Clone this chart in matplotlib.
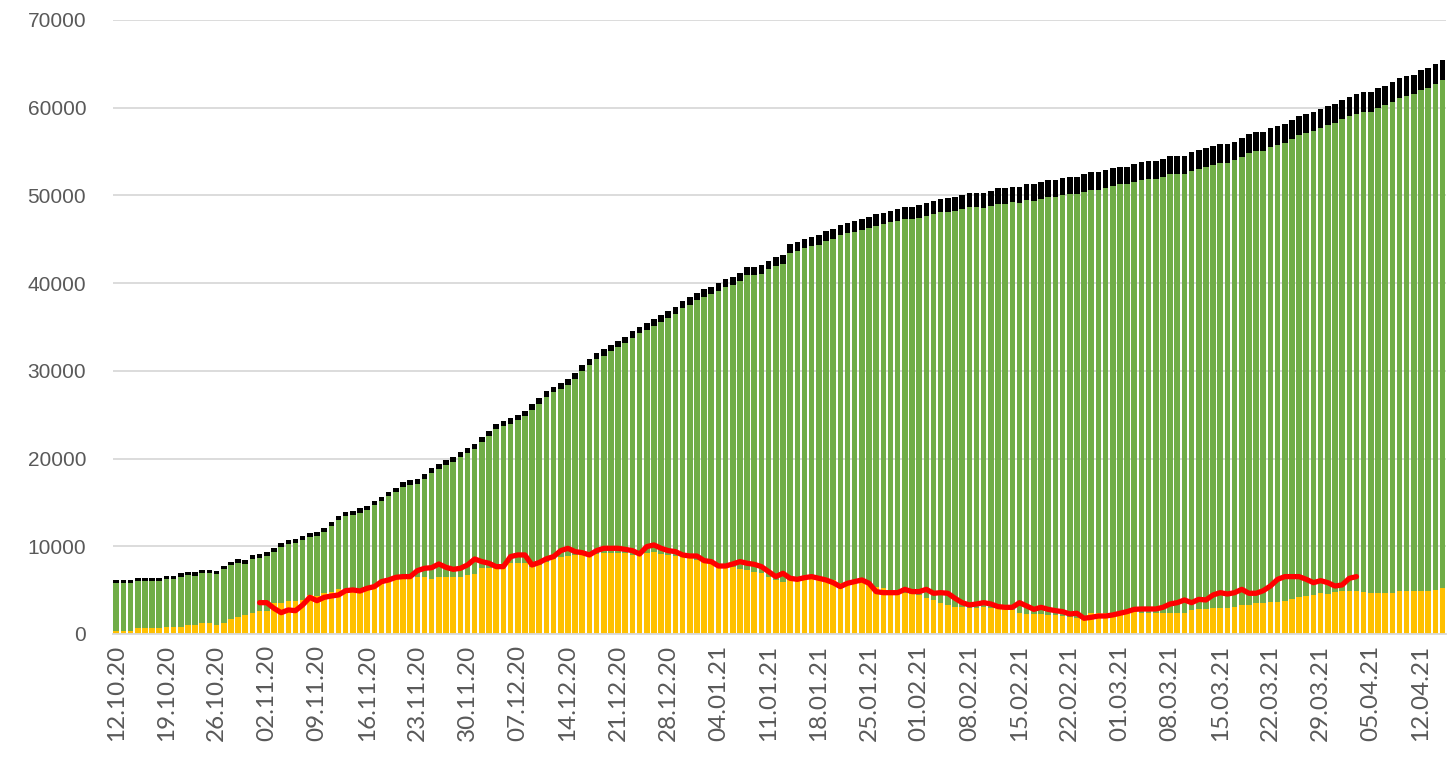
import matplotlib
matplotlib.use("Agg")
import matplotlib.pyplot as plt
import numpy as np
import pandas as pd

# ---- data ----
dates = pd.date_range("2020-10-12", periods=186, freq="D")
date_labels = [d.strftime("%d.%m.%y") for d in dates]

total_cases = [
    6160, 6160, 6160, 6420, 6350, 6350, 6350, 6610, 6610, 6920,
    7110, 7030, 7300, 7300, 7220, 7790, 8250, 8510, 8440, 8970,
    9120, 9380, 9840, 10340, 10720, 10800, 11210, 11480, 11590, 12120,
    12810, 13450, 13950, 14020, 14330, 14600, 15200, 15660, 16230, 16690,
    17300, 17560, 17640, 18210, 18890, 19380, 19840, 20150, 20790, 21170,
    21660, 22500, 23180, 23910, 24290, 24590, 24970, 25460, 26190, 26870,
    27700, 28200, 28580, 29040, 29720, 30670, 31320, 32000, 32450, 32950,
    33440, 33900, 34550, 35040, 35420, 35920, 36370, 36870, 37320, 37970,
    38390, 38920, 39340, 39600, 39990, 40480, 40740, 41200, 41880, 41880,
    42080, 42570, 42950, 43220, 44470, 44730, 45040, 45300, 45500, 45950,
    46180, 46640, 46900, 47090, 47280, 47580, 47850, 48040, 48270, 48460,
    48720, 48720, 48920, 49110, 49370, 49600, 49680, 49860, 50060, 50320,
    50320, 50320, 50550, 50820, 50820, 51010, 51010, 51270, 51270, 51500,
    51770, 51770, 51960, 52150, 52150, 52420, 52650, 52650, 52910, 53100,
    53280, 53280, 53560, 53790, 53970, 53970, 54200, 54470, 54470, 54470,
    54920, 55150, 55380, 55610, 55840, 55840, 56100, 56520, 57000, 57200,
    57200, 57660, 57870, 58120, 58580, 59000, 59290, 59560, 59900, 60170,
    60400, 60850, 61270, 61530, 61760, 61760, 62220, 62520, 62900, 63360,
    63590, 63780, 64270, 64500, 64990, 65450,
]

active = [
    380, 380, 380, 650, 650, 650, 700, 830, 830, 800,
    1030, 1030, 1290, 1290, 1030, 1290, 1710, 1980, 2170, 2430,
    2660, 2660, 3570, 3570, 3800, 3800, 3880, 4450, 4330, 4640,
    4790, 5090, 5020, 4830, 5020, 5210, 5210, 5700, 5970, 6350,
    6540, 6540, 6540, 6540, 6240, 6540, 6540, 6540, 6540, 6730,
    6800, 7490, 7490, 7490, 7680, 8130, 8130, 8130, 7680, 7900,
    8200, 8510, 8820, 8890, 9010, 9120, 8890, 9120, 9270, 9270,
    9270, 9200, 9010, 9010, 9270, 9390, 9120, 9010, 8890, 8740,
    8740, 8440, 8250, 8060, 7750, 7750, 7680, 7370, 7300, 7110,
    6920, 6540, 6160, 5970, 6160, 6230, 6350, 6230, 6160, 6080,
    6160, 5780, 5780, 5850, 5970, 5850, 5400, 5210, 4830, 4640,
    4640, 4560, 4450, 4070, 3880, 3500, 3310, 3120, 3040, 2930,
    2930, 3040, 3000, 2930, 2810, 2740, 2360, 2280, 2280, 2280,
    2170, 2170, 2050, 1900, 1790, 1700, 2360, 2360, 2360, 2360,
    2430, 2550, 2550, 2430, 2430, 2430, 2430, 2430, 2430, 2430,
    2740, 2810, 2810, 2930, 2930, 2930, 3040, 3310, 3310, 3500,
    3570, 3690, 3690, 3800, 3950, 4260, 4330, 4450, 4640, 4560,
    4830, 4940, 4940, 4940, 4830, 4710, 4710, 4710, 4710, 4900,
    4900, 4900, 4900, 4940, 5020, 5210,
]

deaths = [
    330, 335, 340, 345, 350, 355, 360, 365, 370, 375,
    380, 385, 390, 395, 400, 405, 410, 415, 420, 425,
    430, 435, 440, 445, 450, 455, 460, 465, 470, 475,
    480, 485, 490, 495, 500, 505, 510, 515, 520, 525,
    530, 535, 540, 545, 550, 555, 560, 565, 570, 575,
    580, 585, 590, 595, 600, 605, 610, 615, 620, 625,
    630, 640, 650, 660, 670, 680, 690, 700, 710, 720,
    730, 740, 750, 760, 770, 780, 790, 800, 810, 820,
    835, 850, 865, 880, 895, 910, 925, 940, 955, 970,
    985, 1000, 1015, 1030, 1050, 1070, 1090, 1110, 1130, 1150,
    1170, 1190, 1210, 1230, 1250, 1270, 1290, 1310, 1330, 1350,
    1380, 1410, 1440, 1470, 1500, 1530, 1560, 1590, 1620, 1650,
    1680, 1710, 1740, 1760, 1780, 1800, 1820, 1840, 1860, 1880,
    1900, 1915, 1930, 1945, 1960, 1975, 1990, 2000, 2010, 2020,
    2030, 2035, 2040, 2045, 2050, 2055, 2060, 2065, 2070, 2075,
    2080, 2085, 2090, 2095, 2100, 2105, 2110, 2115, 2120, 2125,
    2130, 2135, 2140, 2145, 2150, 2155, 2160, 2165, 2170, 2175,
    2180, 2185, 2190, 2195, 2200, 2205, 2210, 2215, 2220, 2225,
    2230, 2235, 2240, 2245, 2250, 2255,
]

# red line: starts at category 20, ends at category 173
red_start = 20
red_line = [
    3570, 3570, 2930, 2430, 2740, 2660, 3310, 4180, 3800, 4180,
    4330, 4450, 4940, 5020, 4900, 5210, 5400, 5970, 6160, 6460,
    6540, 6540, 7220, 7490, 7560, 7980, 7600, 7370, 7490, 7870,
    8550, 8250, 8060, 7680, 7680, 8820, 9010, 9010, 7870, 8150,
    8570, 8820, 9500, 9770, 9390, 9270, 9010, 9500, 9770, 9770,
    9770, 9650, 9500, 9120, 9960, 10150, 9770, 9500, 9390, 9010,
    8890, 8890, 8360, 8250, 7750, 7750, 7980, 8250, 8060, 7940,
    7680, 7110, 6540, 6920, 6350, 6230, 6420, 6540, 6350, 6160,
    5850, 5400, 5780, 5970, 6160, 5780, 4830, 4710, 4710, 4710,
    5090, 4830, 4830, 5090, 4640, 4710, 4640, 4070, 3570, 3310,
    3420, 3570, 3420, 3120, 3040, 3040, 3570, 3190, 2810, 3040,
    2810, 2660, 2550, 2280, 2360, 1790, 1900, 2050, 2050, 2170,
    2360, 2550, 2810, 2850, 2850, 2850, 3040, 3420, 3570, 3880,
    3570, 3950, 3880, 4450, 4710, 4560, 4710, 5090, 4640, 4640,
    4940, 5470, 6230, 6540, 6540, 6540, 6230, 5850, 6080, 5850,
    5470, 5590, 6350, 6540,
]

# ---- derived ----
n = len(dates)
x = np.arange(n)
active_a = np.array(active, dtype=float)
deaths_a = np.array(deaths, dtype=float)
recovered_a = np.array(total_cases, dtype=float) - active_a - deaths_a
red_x = np.arange(red_start, red_start + len(red_line))

YELLOW = "#FFC000"
GREEN = "#70AD47"
BLACK = "#000000"
RED = "#FF0000"
GRID = "#D9D9D9"
TXT = "#595959"

fig = plt.figure(figsize=(14.5, 7.57), dpi=100)
ax = fig.add_axes([0.0777, 0.1625, 0.9196, 0.8111])

w = 0.78
ax.bar(x, active_a, width=w, color=YELLOW, linewidth=0, zorder=2)
ax.bar(x, recovered_a, width=w, bottom=active_a, color=GREEN, linewidth=0, zorder=2)
ax.bar(x, deaths_a, width=w, bottom=active_a + recovered_a, color=BLACK, linewidth=0, zorder=2)
ax.plot(red_x, red_line, color=RED, linewidth=3.8, solid_joinstyle="round",
        solid_capstyle="round", zorder=3)

ax.set_xlim(-0.5, n - 0.5)
ax.set_ylim(0, 70000)
ax.set_yticks(np.arange(0, 70001, 10000))
ax.set_yticklabels([str(v) for v in range(0, 70001, 10000)],
                   fontfamily="Liberation Sans", fontsize=15, color=TXT)
ax.yaxis.grid(True, color=GRID, linewidth=1.3, zorder=0)
ax.set_axisbelow(True)

tick_idx = x[::7]
ax.set_xticks(tick_idx)
ax.set_xticklabels([date_labels[i] for i in tick_idx], rotation=90,
                   fontfamily="Lato", fontsize=17.5, color=TXT)

ax.tick_params(axis="y", length=0, pad=19)
ax.tick_params(axis="x", length=0, pad=8)

for s in ["left", "right", "top"]:
    ax.spines[s].set_visible(False)
ax.spines["bottom"].set_color(GRID)
ax.spines["bottom"].set_linewidth(1.3)

fig.savefig("out.png", dpi=100)
